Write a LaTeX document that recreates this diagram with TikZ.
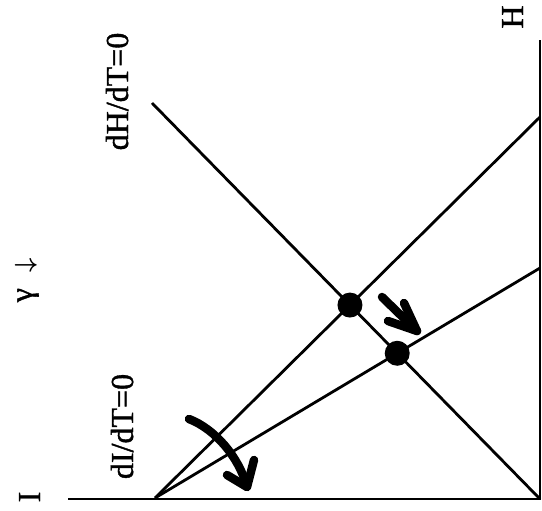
\documentclass[tikz,border=0pt]{standalone}
\usepackage{amsmath}
\usepackage{fontspec}
\setmainfont{Liberation Serif}
\newfontfamily\heavy{Liberation Serif}[FakeBold=1.2]
\usetikzlibrary{intersections}
\begin{document}
\begin{tikzpicture}[x=1pt,y=-1pt,
  thin line/.style={line width=2.8pt},
  fat/.style={line width=8.5pt,line cap=round,line join=round},
  lbl/.style={rotate=90,anchor=base,inner sep=0pt,font=\fontsize{32}{38}\selectfont\heavy},
  dot/.style={circle,fill=black,minimum size=25pt,inner sep=0pt}]
\useasboundingbox (0,0) rectangle (542,511);
% axes
\coordinate (ax0) at (68,499);
\coordinate (corner) at (540,499);
\coordinate (top) at (540,40);
\draw[thin line] (ax0) -- (corner) -- (top);
% nullclines
\coordinate (O) at (155,498);
\coordinate (E1) at (540,117);
\coordinate (E2) at (540,268);
\coordinate (P) at (152,103);
\draw[thin line,name path=l1] (O) -- (E1);
\draw[thin line,name path=l2] (O) -- (E2);
\draw[thin line,name path=lh] (P) -- (corner);
\path[name intersections={of=l1 and lh,by=X1}];
\path[name intersections={of=l2 and lh,by=X2}];
\node[dot] (d1) at (X1) {};
\node[dot] (d2) at (X2) {};
% labels
\node[lbl] (H) at (523,17) {H};
\node[lbl] (I) at (40,497) {I};
\node[lbl] (lh) at (128,91.5) {dH/dT=0};
\node[lbl] (li) at (133,426.5) {dI/dT=0};
\node[lbl] (g) at (32,280) {γ\hspace{0.5em}$\boldsymbol{\downarrow}$};
% curved arrow
\coordinate (as) at (189,419);
\coordinate (at) at (247,487);
\coordinate (aa) at (227,475);
\coordinate (ab) at (254,460);
\draw[fat] (as) .. controls (215,429) and (239,457) .. (at);
\draw[fat] (aa) -- (at) -- (ab);
% straight arrow
\coordinate (bs) at (382,297);
\coordinate (bt) at (417,331);
\coordinate (ba) at (388,321);
\coordinate (bb) at (404,303);
\draw[fat] (bs) -- (bt);
\draw[fat] (ba) -- (bt) -- (bb);
\end{tikzpicture}
\end{document}
